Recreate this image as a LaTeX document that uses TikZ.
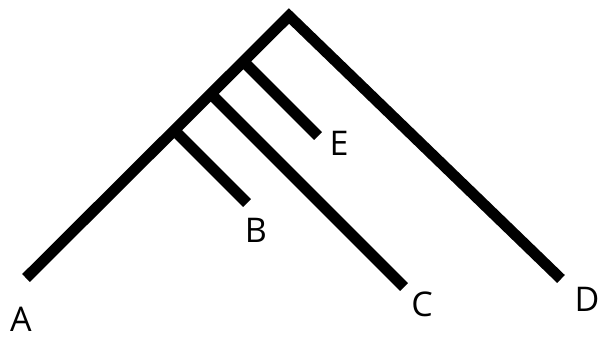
\documentclass[tikz,border=0pt]{standalone}
\usepackage{fontspec}
\setmainfont{Open Sans}
\usetikzlibrary{positioning,calc}

\begin{document}
\begin{tikzpicture}[x=1pt, y=-1pt,
  branch/.style={line width=11pt, line join=miter, line cap=butt, black},
  tip/.style={font=\fontsize{34}{40}\selectfont, inner sep=0pt, text=black},
]
\useasboundingbox (0,0) rectangle (599,337);

% ---- root and leaf ends ----
\coordinate (root) at (289,16);
\coordinate (endA) at (26,278);
\coordinate (endD) at (561,279);
\coordinate (endB) at (247,203);
\coordinate (endC) at (404,287);
\coordinate (endE) at (318,136);

% ---- junctions on the left stem ----
\coordinate (jB) at (174,130);
\coordinate (jC) at (210.5,93.5);
\coordinate (jE) at (243,61);

% ---- stem and branches ----
\draw[branch] (endA) -- (root) -- (endD);
\draw[branch] (jB) -- (endB);
\draw[branch] (jC) -- (endC);
\draw[branch] (jE) -- (endE);

% ---- leaf labels ----
\node[tip] (labA) at (21,319) {A};
\node[tip] (labB) at (256,230) {B};
\node[tip] (labC) at (422,304) {C};
\node[tip] (labD) at (587,299) {D};
\node[tip] (labE) at (339,143) {E};

\end{tikzpicture}
\end{document}
